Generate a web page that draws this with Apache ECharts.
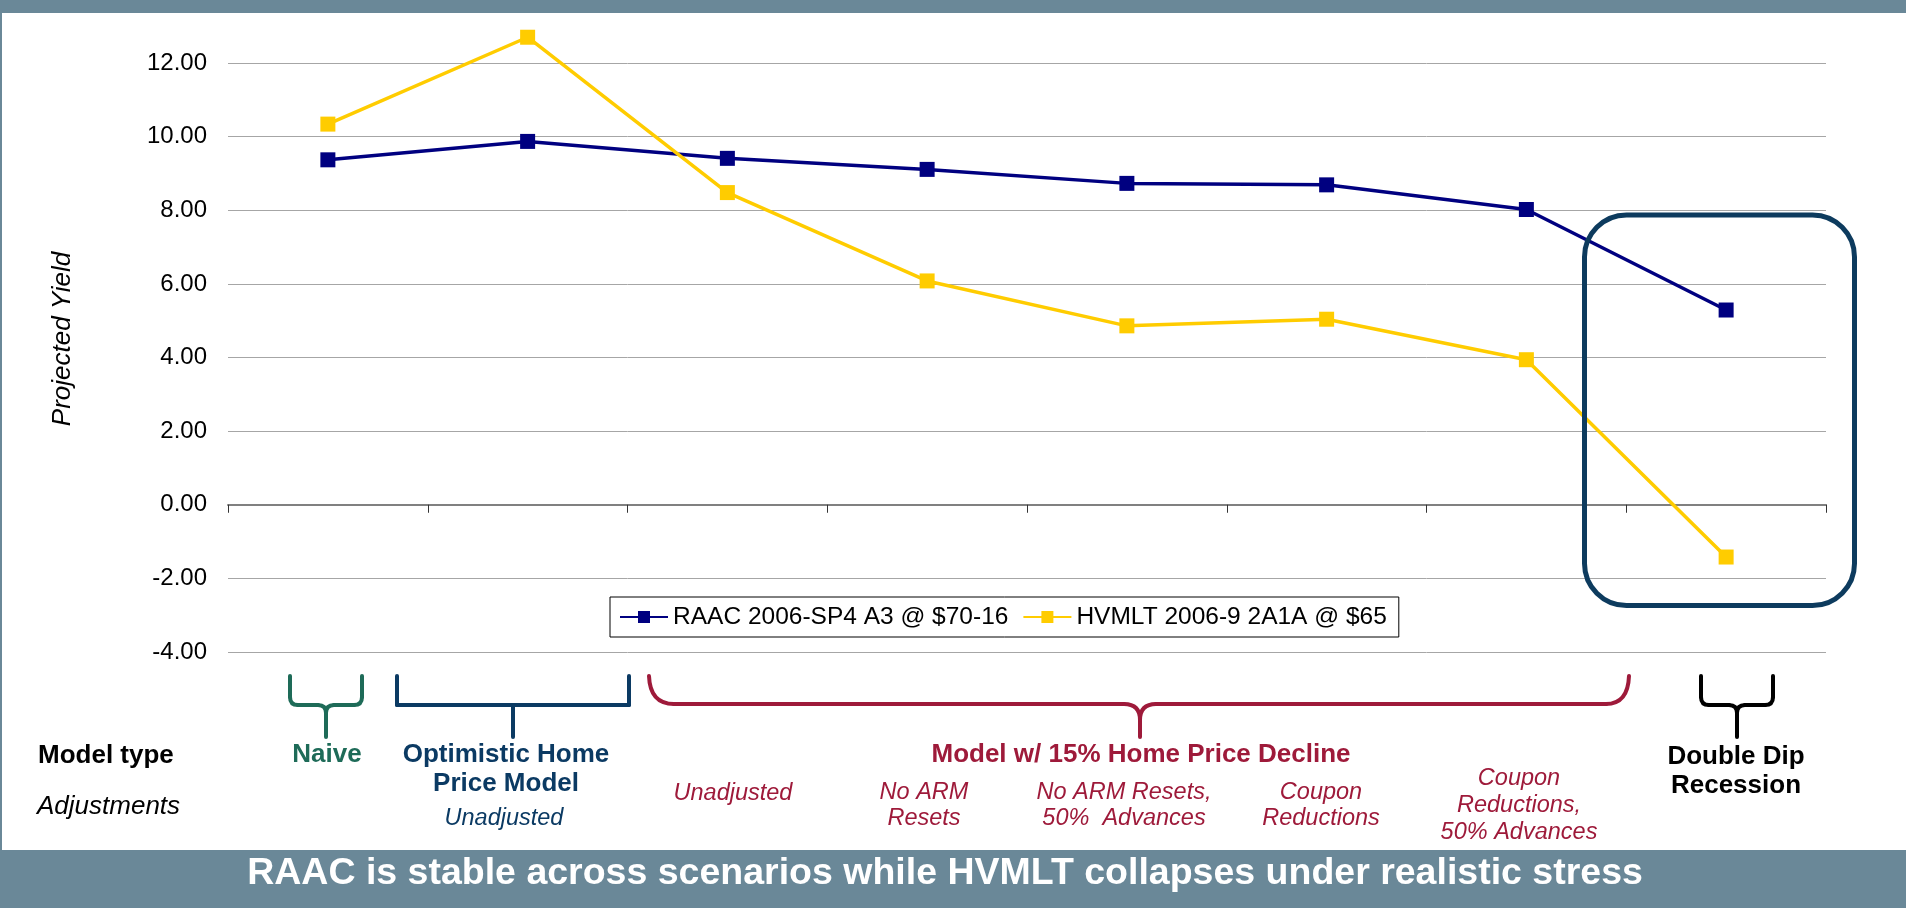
<!DOCTYPE html>
<html>
<head>
<meta charset="utf-8">
<script src="https://cdn.jsdelivr.net/npm/echarts@6/dist/echarts.min.js"></script>
<style>
html,body{margin:0;padding:0;background:#fff;}
#chart{width:1906px;height:908px;}
</style>
</head>
<body>
<div id="chart"></div>
<script>
// ---- data ----
var categories = ["Naive", "Optimistic Unadjusted", "15% HPD Unadjusted", "No ARM Resets", "No ARM Resets, 50% Advances", "Coupon Reductions", "Coupon Reductions, 50% Advances", "Double Dip Recession"];
var raacName = "RAAC 2006-SP4 A3 @ $70-16";
var hvmltName = "HVMLT 2006-9 2A1A @ $65";
var raacValues = [9.37, 9.87, 9.41, 9.11, 8.73, 8.69, 8.02, 5.29];
var hvmltValues = [10.34, 12.70, 8.48, 6.08, 4.86, 5.04, 3.94, -1.42];
var yMin = -4, yMax = 12, yStep = 2;
var bannerText = "RAAC is stable across scenarios while HVMLT collapses under realistic stress";

var FONT = "'Liberation Sans', Arial, sans-serif";
var BANNER = "#6a8898";
var GREEN = "#1e6b58", NAVYT = "#0b3a63", RED = "#9e1a3a";

var chart = echarts.init(document.getElementById('chart'), null, {renderer: 'canvas'});

function txt(x, y, text, color, size, weight, style) {
  return {type: 'text', z: 50, x: x, y: y,
    style: {text: text, fill: color, font: (style || 'normal') + ' ' + (weight || 'normal') + ' ' + size + 'px ' + FONT,
      textAlign: 'center', textVerticalAlign: 'middle'}};
}
function ltxt(x, y, text, color, size, weight, style) {
  var t = txt(x, y, text, color, size, weight, style); t.style.textAlign = 'left'; return t;
}
// convert simple command list to line / bezierCurve graphic elements
function pathEls(cmds, color) {
  var els = [], cx = 0, cy = 0;
  var st = {stroke: color, lineWidth: 4, fill: null, lineCap: 'round'};
  cmds.forEach(function (c) {
    if (c[0] === 'M') { cx = c[1]; cy = c[2]; }
    else if (c[0] === 'L') {
      els.push({type: 'line', z: 50, shape: {x1: cx, y1: cy, x2: c[1], y2: c[2]}, style: st});
      cx = c[1]; cy = c[2];
    } else if (c[0] === 'Q') {
      els.push({type: 'bezierCurve', z: 50, shape: {x1: cx, y1: cy, cpx1: c[1], cpy1: c[2], x2: c[3], y2: c[4]}, style: st});
      cx = c[3]; cy = c[4];
    }
  });
  return els;
}
function curly(x1, x2, xc, color) {
  var y0 = 676, yh = 705, yt = 737, r = 8;
  return pathEls([
    ['M', x1, y0], ['L', x1, yh - r], ['Q', x1, yh, x1 + r, yh], ['L', xc - r, yh], ['Q', xc, yh, xc, yh + r], ['L', xc, yt],
    ['M', x2, y0], ['L', x2, yh - r], ['Q', x2, yh, x2 - r, yh], ['L', xc + r, yh], ['Q', xc, yh, xc, yh + r]
  ], color);
}

var graphics = [
  {type: 'rect', z: 60, shape: {x: 0, y: 0, width: 1906, height: 13}, style: {fill: BANNER}},
  {type: 'rect', z: 60, shape: {x: 0, y: 850, width: 1906, height: 58}, style: {fill: BANNER}},
  {type: 'rect', z: 60, shape: {x: 0, y: 13, width: 2, height: 837}, style: {fill: BANNER}},
  {type: 'text', z: 61, x: 945, y: 874, style: {text: bannerText, fill: '#fff', font: 'bold 37.5px ' + FONT, textAlign: 'center', textVerticalAlign: 'middle'}},
  {type: 'text', z: 50, x: 63, y: 339, rotation: Math.PI / 2,
    style: {text: 'Projected Yield', fill: '#000', font: 'italic normal 26px ' + FONT, textAlign: 'center', textVerticalAlign: 'middle'}},
  {type: 'rect', z: 55, shape: {x: 1584.5, y: 215, width: 270, height: 390.5, r: 42},
    style: {stroke: '#0d3b5e', lineWidth: 5, fill: null}},
  ltxt(38, 756, 'Model type', '#000', 26, 'bold'),
  ltxt(37, 807, 'Adjustments', '#000', 26, 'normal', 'italic'),
  txt(327, 755, 'Naive', GREEN, 26, 'bold'),
  txt(506, 755, 'Optimistic Home', NAVYT, 26, 'bold'),
  txt(506, 784, 'Price Model', NAVYT, 26, 'bold'),
  txt(504, 818, 'Unadjusted', NAVYT, 23.5, 'normal', 'italic'),
  txt(1141, 755, 'Model w/ 15% Home Price Decline', RED, 26, 'bold'),
  txt(733, 793, 'Unadjusted', RED, 23.5, 'normal', 'italic'),
  txt(924, 792, 'No ARM', RED, 23.5, 'normal', 'italic'),
  txt(924, 818, 'Resets', RED, 23.5, 'normal', 'italic'),
  txt(1124, 792, 'No ARM Resets,', RED, 23.5, 'normal', 'italic'),
  txt(1124, 818, '50%  Advances', RED, 23.5, 'normal', 'italic'),
  txt(1321, 792, 'Coupon', RED, 23.5, 'normal', 'italic'),
  txt(1321, 818, 'Reductions', RED, 23.5, 'normal', 'italic'),
  txt(1519, 778, 'Coupon', RED, 23.5, 'normal', 'italic'),
  txt(1519, 805, 'Reductions,', RED, 23.5, 'normal', 'italic'),
  txt(1519, 832, '50% Advances', RED, 23.5, 'normal', 'italic'),
  txt(1736, 757, 'Double Dip', '#000', 26, 'bold'),
  txt(1736, 786, 'Recession', '#000', 26, 'bold')
].concat(
  curly(290, 362, 326, GREEN),
  pathEls([['M', 397, 676], ['L', 397, 705], ['L', 629, 705], ['L', 629, 676], ['M', 513, 705], ['L', 513, 737]], NAVYT),
  pathEls([['M', 649, 676], ['Q', 650, 704, 674, 704], ['L', 1124, 704], ['Q', 1140, 704, 1140, 720], ['L', 1140, 737],
           ['M', 1629, 676], ['Q', 1628, 704, 1606, 704], ['L', 1156, 704], ['Q', 1140, 704, 1140, 720]], RED),
  curly(1701, 1773, 1737, '#000')
);

var option = {
  backgroundColor: '#fff',
  animation: false,
  textStyle: {fontFamily: FONT},
  grid: {left: 228, right: 80, top: 63, bottom: 256, containLabel: false},
  legend: {
    data: [raacName, hvmltName],
    left: 610, top: 597,
    padding: [7, 12, 7, 9],
    borderColor: '#000', borderWidth: 1, backgroundColor: '#fff',
    itemWidth: 48, itemHeight: 15, itemGap: 14,
    textStyle: {fontSize: 24.5, color: '#000', fontFamily: FONT, lineHeight: 26}
  },
  xAxis: {
    type: 'category', data: categories, boundaryGap: true,
    axisLine: {onZero: true, lineStyle: {color: '#808080', width: 2}},
    axisTick: {show: true, interval: 0, alignWithLabel: false, length: 8, lineStyle: {color: '#333', width: 1}},
    axisLabel: {show: false},
    splitLine: {show: false}
  },
  yAxis: {
    type: 'value', min: yMin, max: yMax, interval: yStep,
    axisLine: {show: false}, axisTick: {show: false},
    axisLabel: {fontSize: 24, color: '#000', margin: 21, fontFamily: FONT,
      formatter: function (v) { return v.toFixed(2); }},
    splitLine: {show: true, lineStyle: {color: '#a6a6a6', width: 1}}
  },
  series: [
    {name: raacName, type: 'line', data: raacValues, clip: false, symbol: 'rect', symbolSize: 15,
      color: '#000080', lineStyle: {color: '#000080', width: 3.5}, itemStyle: {color: '#000080'}, z: 3},
    {name: hvmltName, type: 'line', data: hvmltValues, clip: false, symbol: 'rect', symbolSize: 15,
      color: '#ffcc00', lineStyle: {color: '#ffcc00', width: 3.5}, itemStyle: {color: '#ffcc00'}, z: 4}
  ],
  graphic: graphics
};
chart.setOption(option);
</script>
</body>
</html>
